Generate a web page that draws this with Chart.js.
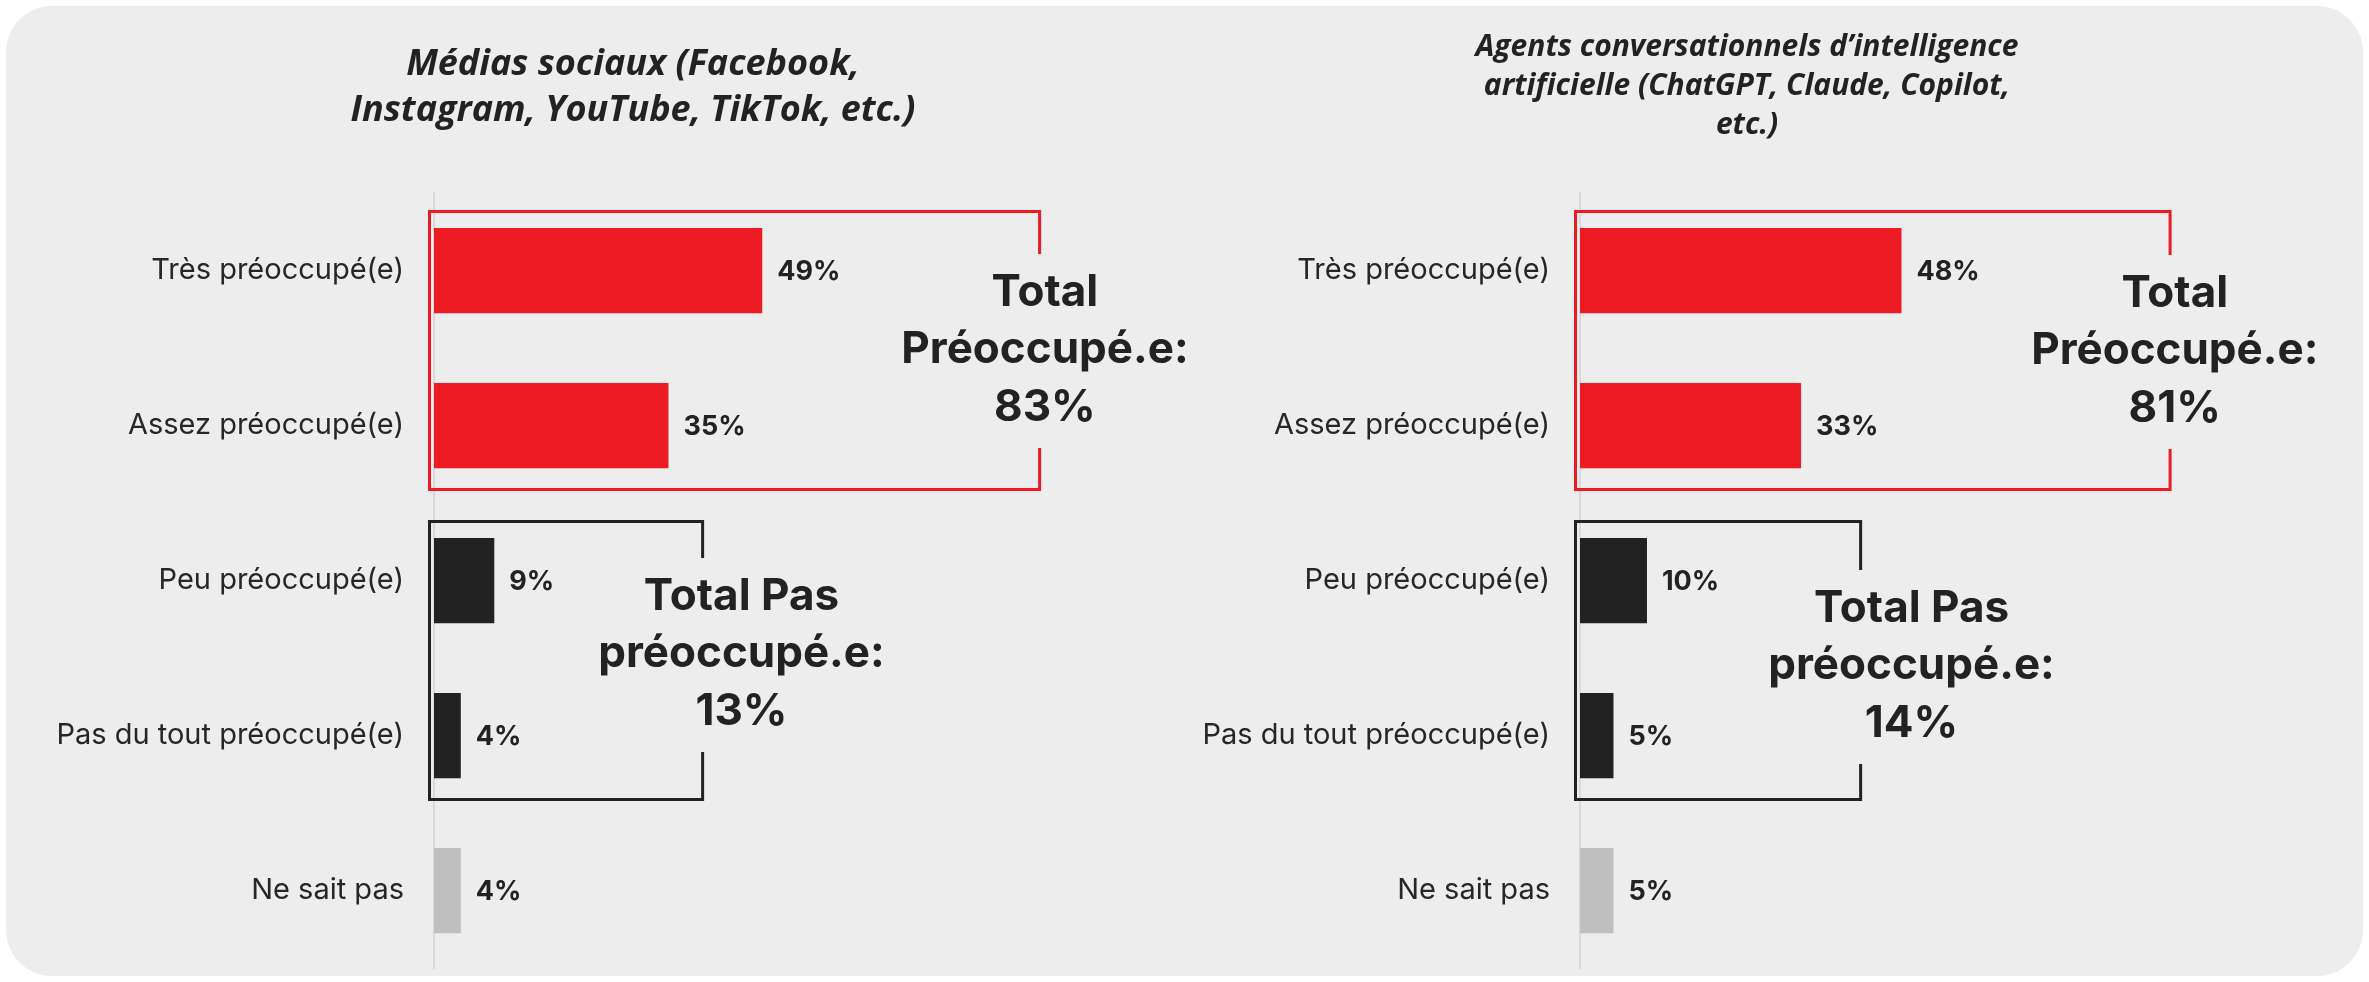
<!DOCTYPE html>
<html>
<head>
<meta charset="utf-8">
<script src="https://cdn.jsdelivr.net/npm/chart.js@4"></script>
<style>
  html, body { margin: 0; padding: 0; background: #fff; }
  #page { position: relative; width: 2369px; height: 982px; overflow: hidden; }
  #bg { position: absolute; left: 6px; top: 6px; width: 2357px; height: 970px; background: #EDEDED; border-radius: 46px; }
  canvas { position: absolute; top: 0; }
  #mediasChart { left: 0; }
  #agentsChart { left: 1125px; }
</style>
</head>
<body>
<div id="page">
  <div id="bg"></div>
  <canvas id="mediasChart" width="1266" height="982"></canvas>
  <canvas id="agentsChart" width="1244" height="982"></canvas>
</div>
<script>
var categories = ['Très préoccupé(e)', 'Assez préoccupé(e)', 'Peu préoccupé(e)', 'Pas du tout préoccupé(e)', 'Ne sait pas'];
var mediasValues = [49, 35, 9, 4, 4];
var agentsValues = [48, 33, 10, 5, 5];
var mediasTotals = [83, 13];   // préoccupé / pas préoccupé
var agentsTotals = [81, 14];
var mediasTitle = ['Médias sociaux (Facebook,', 'Instagram, YouTube, TikTok, etc.)'];
var agentsTitle = ['Agents conversationnels d\u2019intelligence', 'artificielle (ChatGPT, Claude, Copilot,', 'etc.)'];
var barColors = ['#ED1C24', '#ED1C24', '#222222', '#222222', '#BFBFBF'];

// value labels at the end of each bar
var valueLabels = {
  id: 'valueLabels',
  afterDatasetsDraw: function (chart) {
    var ctx = chart.ctx;
    var meta = chart.getDatasetMeta(0);
    ctx.save();
    ctx.font = 'bold 27px Inter';
    ctx.fillStyle = '#222';
    ctx.textAlign = 'left';
    ctx.textBaseline = 'middle';
    meta.data.forEach(function (bar, i) {
      ctx.fillText(Math.round(chart.data.datasets[0].data[i]) + '%', bar.x + 15, bar.y + 1);
    });
    ctx.restore();
  }
};

// open boxes grouping categories, with the total written over the right side
var groupBoxes = {
  id: 'groupBoxes',
  afterDatasetsDraw: function (chart, args, opts) {
    var ctx = chart.ctx, x = chart.scales.x, y = chart.scales.y;
    var left = x.getPixelForValue(0) - 4.5;
    opts.boxes.forEach(function (b) {
      var yFrom = y.getPixelForValue(b.from), yTo = y.getPixelForValue(b.to);
      var top = yFrom - 59, bottom = yTo + 64;
      var right = x.getPixelForValue(b.right);
      var mid = (yFrom + yTo) / 2 + b.dy;
      ctx.save();
      ctx.strokeStyle = b.color;
      ctx.lineWidth = 3;
      ctx.beginPath();
      ctx.moveTo(right, mid - 12 - 97);
      ctx.lineTo(right, top);
      ctx.lineTo(left, top);
      ctx.lineTo(left, bottom);
      ctx.lineTo(right, bottom);
      ctx.lineTo(right, mid - 12 + 97);
      ctx.stroke();

      ctx.font = 'bold 44px Inter';
      ctx.fillStyle = '#222';
      ctx.textAlign = 'center';
      ctx.textBaseline = 'alphabetic';
      var tx = x.getPixelForValue(b.textAt);
      b.lines.forEach(function (line, i) {
        ctx.fillText(line, tx, mid + (i - 1) * 57.5);
      });
      ctx.restore();
    });
  }
};

function makeChart(id, title, titleFont, titlePad, values, totals, yWidth, xMax, boxes) {
  var ctx = document.getElementById(id).getContext('2d');
  return new Chart(ctx, {
    type: 'bar',
    data: {
      labels: categories,
      datasets: [{
        data: values,
        backgroundColor: barColors,
        categoryPercentage: 1,
        barPercentage: 0.55
      }]
    },
    options: {
      indexAxis: 'y',
      responsive: false,
      animation: false,
      devicePixelRatio: 1,
      layout: { padding: { top: 0, left: 0, right: 0, bottom: 14 } },
      scales: {
        x: { display: false, min: 0, max: xMax },
        y: {
          grid: { display: false, drawTicks: false },
          border: { display: true, color: '#D9D9D9', width: 2 },
          ticks: { color: '#262626', padding: 30, font: { family: 'Inter', size: 29 } },
          afterFit: function (scale) {
            scale.width = yWidth;
            scale.paddingTop = 0;
            scale.paddingBottom = 0;
          }
        }
      },
      plugins: {
        legend: { display: false },
        tooltip: { enabled: false },
        title: {
          display: true,
          text: title,
          color: '#222',
          font: titleFont,
          padding: titlePad
        },
        groupBoxes: {
          boxes: [
            { from: 0, to: 1, right: boxes[0], textAt: boxes[1], dy: boxes[2], color: '#ED1C24',
              lines: ['Total', 'Préoccupé.e:', totals[0] + '%'] },
            { from: 2, to: 3, right: boxes[3], textAt: boxes[4], dy: boxes[5], color: '#222',
              lines: ['Total Pas', 'préoccupé.e:', totals[1] + '%'] }
          ]
        }
      }
    },
    plugins: [valueLabels, groupBoxes]
  });
}

makeChart('mediasChart', mediasTitle,
  { family: 'Open Sans', size: 36, weight: 'bold', style: 'italic', lineHeight: 1.278 },
  { top: 42, bottom: 59 },
  mediasValues, mediasTotals, 434, 124.2,
  [90.4, 91.2, 15, 40.1, 45.9, 9]);

makeChart('agentsChart', agentsTitle,
  { family: 'Open Sans', size: 30, weight: 'bold', style: 'italic', lineHeight: 1.3 },
  { top: 28, bottom: 48 },
  agentsValues, agentsTotals, 455, 117.8,
  [88.1, 88.8, 16, 41.9, 49.5, 21]);
</script>
</body>
</html>
